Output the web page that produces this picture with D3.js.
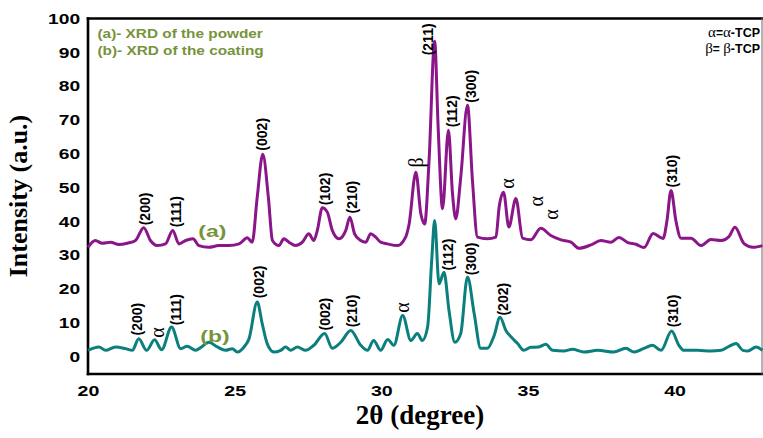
<!DOCTYPE html>
<html>
<head>
<meta charset="utf-8">
<script src="https://cdn.jsdelivr.net/npm/d3@7"></script>
<style>
  body { margin: 0; background: #fff; }
  svg { display: block; }
</style>
</head>
<body>
<svg id="chart" width="763" height="438"></svg>
<script>
// XRD pattern of the powder (a): [2θ (deg), intensity (a.u.)]
const powderPattern = [
  [20.00,32.3],[20.25,34.3],[20.48,33.5],[20.77,33.8],[21.05,33.1],[21.34,33.5],[21.62,34.3],
  [21.90,38.1],[22.13,34.3],[22.36,32.8],[22.64,33.3],[22.89,37.3],[23.10,33.3],[23.33,34.3],
  [23.58,34.8],[23.78,32.8],[24.12,32.3],[24.46,32.8],[24.80,32.8],[25.15,33.3],[25.43,35.1],
  [25.60,33.8],[25.77,47.1],[25.96,59.8],[26.15,47.1],[26.29,34.3],[26.51,32.8],[26.68,34.8],
  [26.85,33.8],[27.08,32.8],[27.31,33.8],[27.53,36.3],[27.70,34.3],[27.82,37.3],[27.99,44.0],
  [28.16,42.7],[28.33,37.3],[28.56,34.8],[28.79,37.3],[28.93,41.2],[29.09,36.3],[29.30,34.3],
  [29.47,33.8],[29.64,36.3],[29.81,35.3],[29.98,33.8],[30.21,33.3],[30.55,32.8],[30.83,35.3],
  [30.95,39.2],[31.18,54.5],[31.35,42.2],[31.48,39.2],[31.63,58.0],[31.82,93.3],[31.94,67.8],
  [32.09,43.7],[32.29,66.9],[32.43,48.1],[32.54,40.7],[32.71,53.0],[32.94,74.3],[33.11,52.0],
  [33.28,35.3],[33.62,34.8],[33.91,35.3],[34.02,44.2],[34.17,48.6],[34.35,38.3],[34.59,46.7],
  [34.82,35.0],[35.10,34.5],[35.44,37.9],[35.78,35.8],[36.13,34.5],[36.47,33.8],[36.74,32.0],
  [37.15,33.0],[37.49,34.3],[37.83,33.8],[38.10,35.2],[38.41,33.7],[38.68,33.2],[38.96,32.2],
  [39.27,36.4],[39.61,34.9],[39.74,40.0],[39.88,49.1],[40.05,40.0],[40.22,35.0],[40.56,35.0],
  [40.90,32.8],[41.24,34.6],[41.59,34.3],[41.86,35.5],[42.06,38.2],[42.37,33.4],[42.68,32.3],
  [43.00,32.8]
];

// XRD pattern of the coating (b): [2θ (deg), intensity (a.u.)]
const coatingPattern = [
  [20.00,1.8],[20.37,2.8],[20.60,1.8],[20.94,2.8],[21.28,2.3],[21.51,1.8],[21.73,5.2],[22.00,1.8],
  [22.27,4.9],[22.51,2.0],[22.85,8.7],[23.16,2.3],[23.38,3.0],[23.67,1.8],[23.87,2.8],[24.12,4.2],
  [24.41,2.8],[24.69,1.8],[24.92,2.3],[25.09,1.3],[25.32,2.8],[25.49,5.2],[25.77,16.1],[25.94,9.7],
  [26.11,3.8],[26.34,1.3],[26.57,1.8],[26.74,2.8],[26.91,1.8],[27.14,2.8],[27.42,1.8],[27.70,3.3],
  [28.07,6.8],[28.33,2.4],[28.62,4.2],[28.96,7.7],[29.30,3.3],[29.53,1.8],[29.74,4.7],[29.98,1.8],
  [30.22,5.0],[30.43,3.3],[30.73,12.1],[31.01,4.7],[31.23,6.8],[31.40,4.7],[31.58,8.7],[31.72,28.4],
  [31.82,40.2],[31.97,21.5],[32.14,24.9],[32.31,13.6],[32.51,4.2],[32.71,6.8],[32.94,23.5],[33.17,12.6],
  [33.39,2.4],[33.62,2.4],[33.85,6.2],[34.05,11.6],[34.25,7.7],[34.48,5.3],[34.65,3.8],[34.86,1.8],
  [35.10,2.7],[35.37,2.8],[35.61,3.6],[35.84,1.8],[36.23,1.6],[36.52,2.1],[36.91,1.3],[37.38,1.8],
  [37.93,1.3],[38.34,2.4],[38.62,1.3],[38.96,2.4],[39.25,3.3],[39.54,1.8],[39.90,7.5],[40.15,3.3],
  [40.32,1.8],[40.79,1.8],[41.24,1.6],[41.59,1.8],[41.86,3.0],[42.10,3.8],[42.33,1.8],[42.50,1.6],
  [42.78,2.8],[43.00,1.8]
];

// Miller indices of the indexed reflections: label, 2θ, intensity at the label's foot
const powderIndices = [
  ["(200)",21.96,38.8],["(111)",23.02,38.2],["(002)",25.95,60.9],["(102)",28.07,44.7],
  ["(210)",28.99,42.3],["(211)",31.59,89.1],["(112)",32.41,67.8],["(300)",33.05,75.1],
  ["(310)",39.91,50.0]
];
const coatingIndices = [
  ["(200)",21.69,6.2],["(111)",22.99,9.2],["(002)",25.85,17.2],["(002)",28.07,7.7],
  ["(210)",28.99,8.6],["(112)",32.27,25.4],["(300)",33.05,24.0],["(202)",34.15,12.1],
  ["(310)",39.95,8.6]
];

// Phase markers (α-TCP / β-TCP): symbol, 2θ, intensity at the symbol's centre
const phaseMarkers = [
  ["β",31.18,57.4],["α",34.28,51.2],["α",35.27,45.9],["α",35.78,42.0],
  ["α",22.34,7.1],["α",30.70,14.5]
];

const seriesTags = [["(a)",23.76,35.3],["(b)",23.83,4.3]];
const legendLines = ["(a)- XRD of the powder","(b)- XRD of the coating"];
const xTickValues = [20,25,30,35,40];
const yTickValues = [0,10,20,30,40,50,60,70,80,90,100];

const SANS = "Arial, 'Liberation Sans', sans-serif";
const SERIF = "'Times New Roman', 'Liberation Serif', serif";
const powderColor = "#8a168a";
const coatingColor = "#0b7f7d";
const tagColor = "#77933c";

const svg = d3.select("#chart");
const plot = { left: 88, right: 762.5, top: 18.5, bottom: 374 };

const x = d3.scaleLinear().domain([20, 43]).range([plot.left, plot.right]);
const y = d3.scaleLinear().domain([-5.2, 100]).range([plot.bottom, plot.top]);

// axes: labels only, no tick marks
const yAxis = svg.append("g")
  .attr("transform", `translate(${plot.left},0)`)
  .call(d3.axisLeft(y).tickValues(yTickValues).tickSize(0).tickPadding(6.2));
yAxis.select(".domain").remove();
yAxis.selectAll("text")
  .attr("font-family", SANS).attr("font-weight", "bold").attr("font-size", 15)
  .attr("fill", "#000").attr("transform", "scale(1.28,1)");

const xAxis = svg.append("g")
  .attr("transform", `translate(0,${plot.bottom})`)
  .call(d3.axisBottom(x).tickValues(xTickValues).tickSize(0).tickPadding(12));
xAxis.select(".domain").remove();
xAxis.selectAll("text")
  .attr("font-family", SANS).attr("font-weight", "bold").attr("font-size", 14.5)
  .attr("fill", "#000").attr("transform", "scale(1.35,1)");

// frame
const frame = svg.append("g").attr("stroke-linecap", "square");
frame.append("line").attr("x1", plot.left).attr("x2", plot.right).attr("y1", plot.top).attr("y2", plot.top)
  .attr("stroke", "#000").attr("stroke-width", 2.6);
frame.append("line").attr("x1", plot.left).attr("x2", plot.left).attr("y1", plot.top).attr("y2", plot.bottom)
  .attr("stroke", "#000").attr("stroke-width", 2.6);
frame.append("line").attr("x1", plot.left).attr("x2", plot.right).attr("y1", plot.bottom).attr("y2", plot.bottom)
  .attr("stroke", "#000").attr("stroke-width", 2.6);
frame.append("line").attr("x1", plot.right - 0.5).attr("x2", plot.right - 0.5).attr("y1", plot.top).attr("y2", plot.bottom)
  .attr("stroke", "#666").attr("stroke-width", 1);

// diffraction patterns
const line = d3.line()
  .x(d => x(d[0]))
  .y(d => y(d[1]))
  .curve(d3.curveMonotoneX);

svg.append("path").datum(powderPattern)
  .attr("d", line).attr("fill", "none")
  .attr("stroke", powderColor).attr("stroke-width", 3).attr("stroke-linejoin", "round");
svg.append("path").datum(coatingPattern)
  .attr("d", line).attr("fill", "none")
  .attr("stroke", coatingColor).attr("stroke-width", 3).attr("stroke-linejoin", "round");

// Miller index labels, written vertically
svg.append("g").selectAll("text")
  .data(powderIndices.concat(coatingIndices))
  .join("text")
  .attr("transform", d => `translate(${x(d[1])},${y(d[2])}) rotate(-90)`)
  .attr("dy", "0.35em")
  .attr("text-anchor", "start")
  .attr("font-family", SANS).attr("font-weight", "bold").attr("font-size", 14)
  .attr("fill", "#000")
  .text(d => d[0]);

// phase markers
svg.append("g").selectAll("text")
  .data(phaseMarkers)
  .join("text")
  .attr("transform", d => `translate(${x(d[1])},${y(d[2])}) rotate(-90)`)
  .attr("dy", "0.35em")
  .attr("text-anchor", "middle")
  .attr("font-family", SERIF).attr("font-size", 20)
  .attr("fill", "#000")
  .text(d => d[0]);

// curve tags (a) / (b)
svg.append("g").selectAll("text")
  .data(seriesTags)
  .join("text")
  .attr("transform", d => `translate(${x(d[1])},${y(d[2])}) scale(1.35,1)`)
  .attr("font-family", SANS).attr("font-weight", "bold").attr("font-size", 17)
  .attr("fill", tagColor)
  .text(d => d[0]);

// top-left legend
svg.append("g").selectAll("text")
  .data(legendLines)
  .join("text")
  .attr("transform", (d, i) => `translate(97.5,${38 + i * 16.5}) scale(1.28,1)`)
  .attr("font-family", SANS).attr("font-weight", "bold").attr("font-size", 12)
  .attr("fill", tagColor)
  .text(d => d);

// top-right phase key
const key = svg.append("g").attr("fill", "#000");
[["α", "α", 37], ["β", "β", 53]].forEach(([sym, sym2, base]) => {
  const t = key.append("text").attr("x", 760).attr("y", base).attr("text-anchor", "end");
  t.append("tspan").attr("font-family", SERIF).attr("font-size", 15).text(sym);
  t.append("tspan").attr("font-family", SANS).attr("font-weight", "bold").attr("font-size", 12)
    .text(sym === "β" ? "= " : "=");
  t.append("tspan").attr("font-family", SERIF).attr("font-size", 15).text(sym2);
  t.append("tspan").attr("font-family", SANS).attr("font-weight", "bold").attr("font-size", 12.5).text("-TCP");
});

// axis titles
svg.append("text")
  .attr("x", 420).attr("y", 424)
  .attr("text-anchor", "middle")
  .attr("font-family", SERIF).attr("font-weight", "bold").attr("font-size", 27)
  .attr("fill", "#000")
  .text("2θ (degree)");

svg.append("text")
  .attr("transform", "translate(27,196) rotate(-90)")
  .attr("text-anchor", "middle")
  .attr("font-family", SERIF).attr("font-weight", "bold").attr("font-size", 26)
  .attr("fill", "#000")
  .text("Intensity (a.u.)");
</script>
</body>
</html>
